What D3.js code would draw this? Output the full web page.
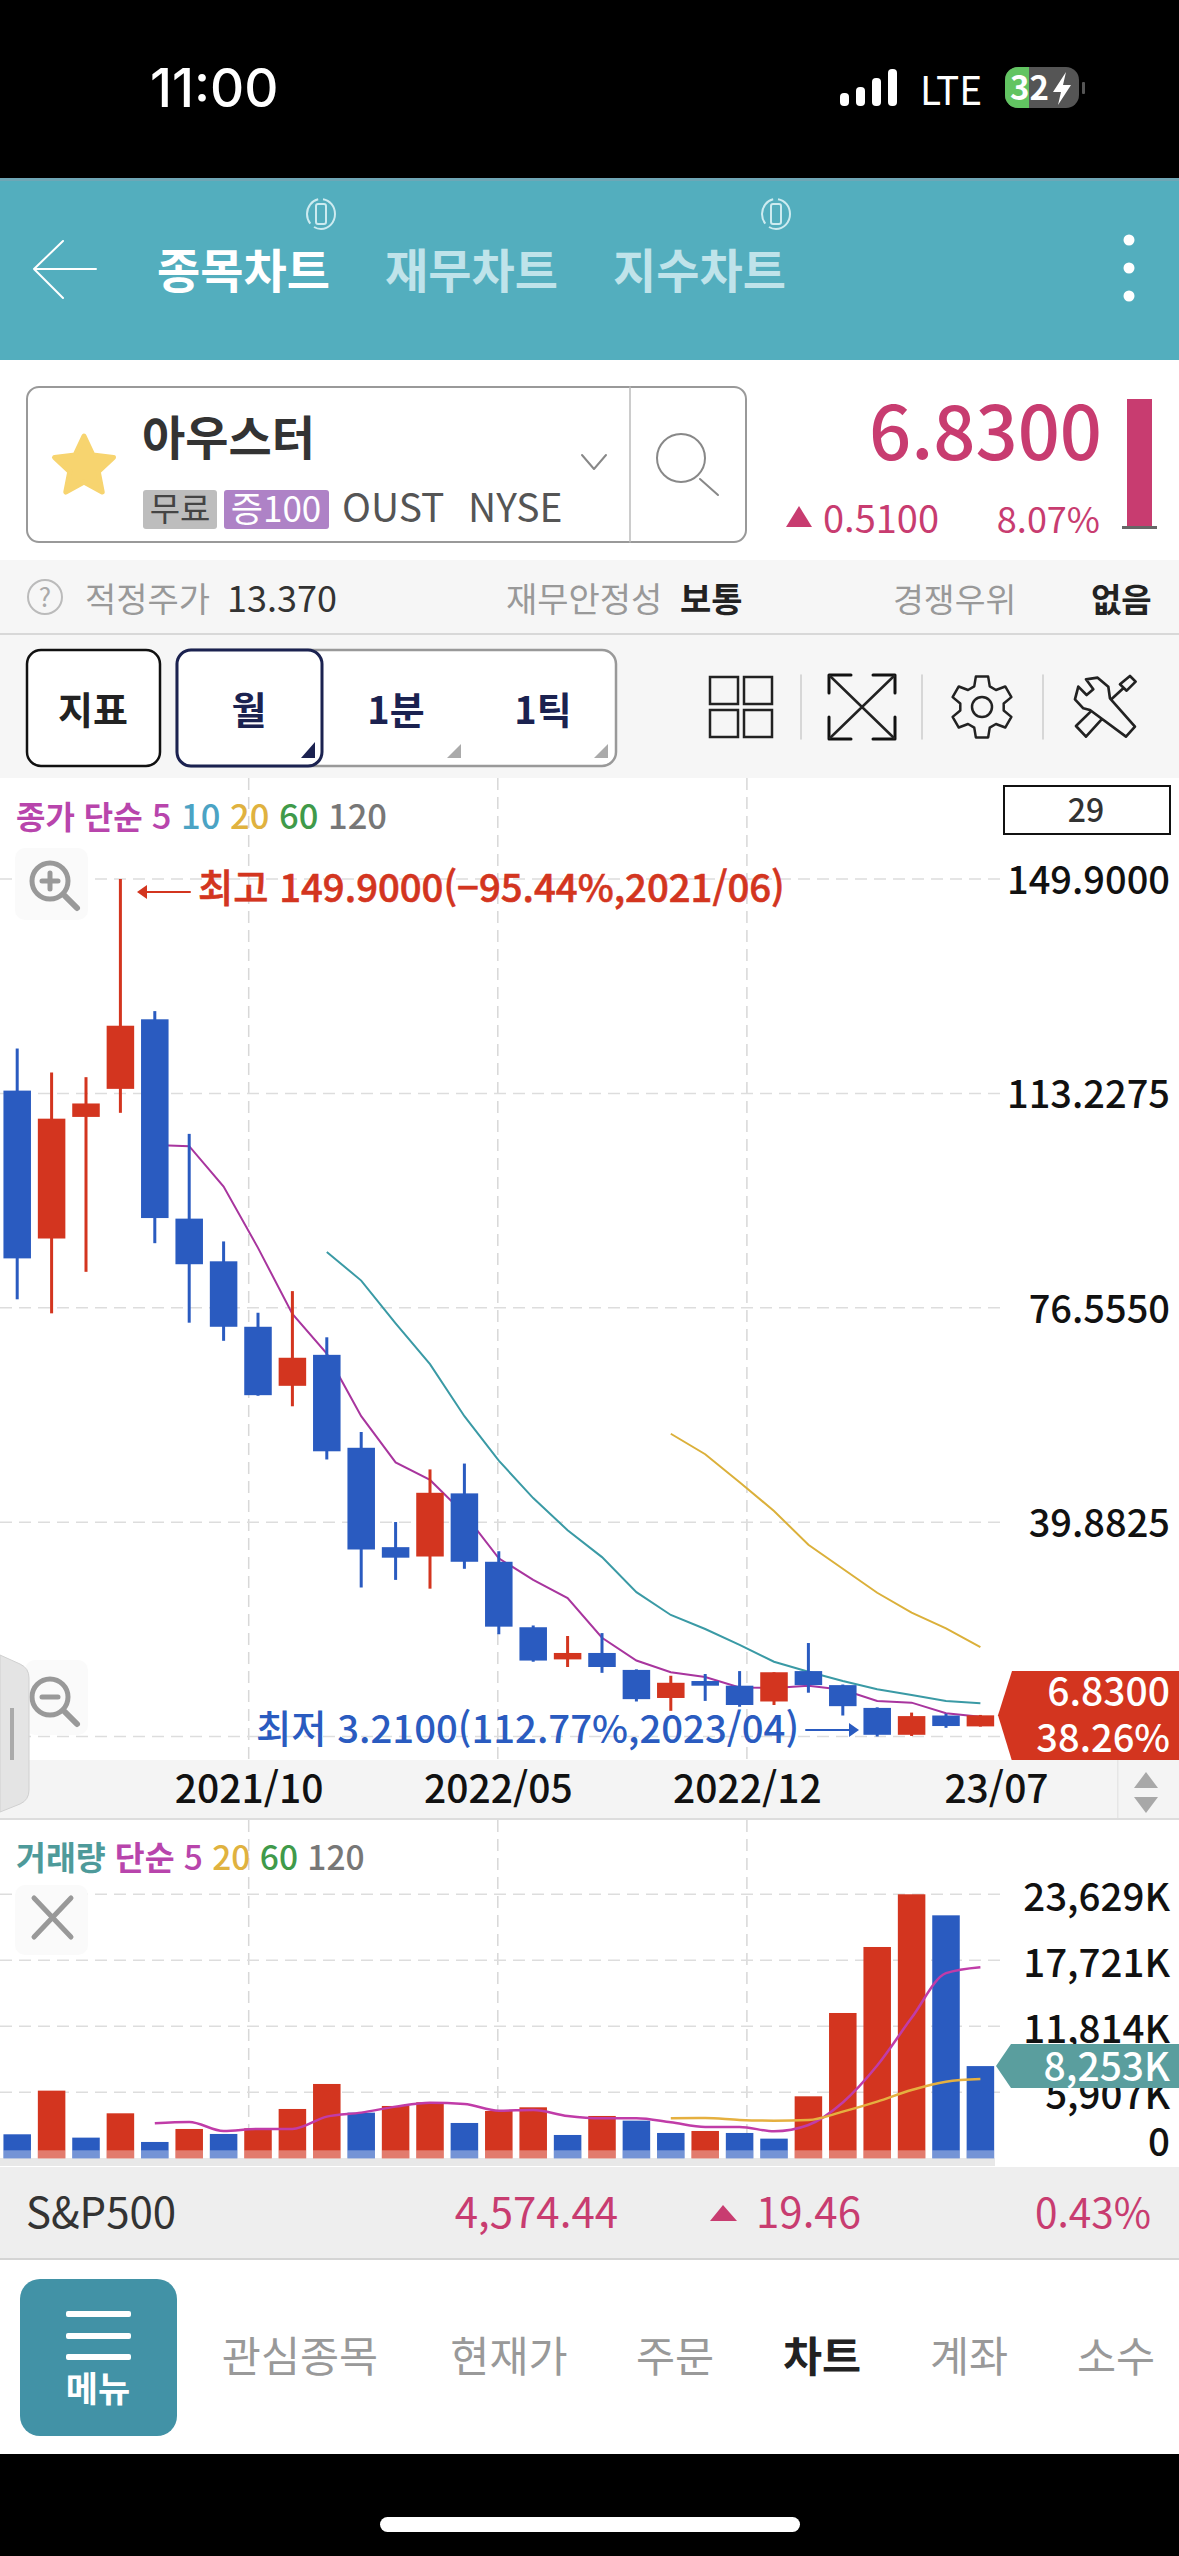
<!DOCTYPE html>
<html lang="ko">
<head>
<meta charset="utf-8">
<title>아우스터 차트</title>
<script src="https://cdn.jsdelivr.net/npm/d3@7"></script>
<style>
  html, body { margin: 0; padding: 0; background: #000; }
  svg { display: block; }
  text { font-family: "Noto Sans CJK KR", "Noto Sans", sans-serif; }
</style>
</head>
<body>
<div id="chart"></div>
<script>
// monthly candles
const months = ["2021/03","2021/04","2021/05","2021/06","2021/07","2021/08","2021/09","2021/10","2021/11","2021/12",
  "2022/01","2022/02","2022/03","2022/04","2022/05","2022/06","2022/07","2022/08","2022/09","2022/10","2022/11","2022/12",
  "2023/01","2023/02","2023/03","2023/04","2023/05","2023/06","2023/07"];
const opens = [113.7,88.4,109.2,114.0,125.9,91.8,84.5,73.3,63.2,68.5,52.6,35.6,34.0,44.8,33.1,21.9,16.4,17.5,14.6,9.8,12.7,11.9,9.2,14.4,12.0,8.1,3.5,6.8,4.94];
const highs = [120.9,116.8,116.0,149.9,127.3,106.3,87.9,75.7,79.4,71.5,55.3,39.9,48.9,49.9,34.9,22.2,20.4,20.9,14.7,13.6,13.9,14.4,14.2,19.2,12.1,8.2,7.3,7.1,6.9];
const lows = [78.0,75.6,82.7,109.9,87.6,74.0,70.9,61.5,59.7,50.6,28.7,30.0,28.5,31.9,20.7,16.0,15.1,14.1,9.2,7.6,9.3,8.3,8.6,10.7,6.8,3.21,3.3,4.7,4.9];
const closes = [85.0,108.9,111.5,124.8,91.9,84.0,73.3,61.6,68.0,52.0,35.2,33.8,44.9,33.1,22.0,16.2,17.5,15.1,9.6,12.4,11.9,8.6,14.2,12.0,8.4,3.5,6.7,5.0,6.83];

const ma5 = [null,null,null,null,104.4,104.2,97.3,86.8,75.5,68.7,58.0,50.1,47.1,41.3,33.7,30.0,26.9,20.1,16.2,14.2,13.4,11.6,11.5,11.9,11.2,9.3,9.0,7.2,6.6];
const ma10 = [null,null,null,null,null,null,null,null,null,86.1,81.2,73.9,66.9,58.0,50.4,44.0,38.5,33.9,27.9,24.0,21.6,18.9,16.0,14.3,12.7,11.3,10.3,9.3,8.9];
const ma20 = [null,null,null,null,null,null,null,null,null,null,null,null,null,null,null,null,null,null,null,55.0,51.5,46.7,41.8,36.0,31.9,27.8,24.4,21.7,18.5];

// volume in thousands
const volumes = [2148,6056,1850,4027,1462,2625,2178,2685,4415,6653,4087,4684,5012,3162,4236,4564,2088,3789,3371,2267,2446,2267,1760,5549,13006,18913,23629,21747,8253];
const volMa5 = [null,null,null,null,3132,3252,2446,2625,2625,3729,4087,4624,4982,4862,4266,4325,3788,3580,3580,3222,2804,2804,2416,2983,5000,8300,12570,16570,17110];
const volMa20 = [null,null,null,null,null,null,null,null,null,null,null,null,null,null,null,null,null,null,null,3580,3609,3430,3371,3430,4176,5071,6115,6861,7100];

const priceTicks = [149.9, 113.2275, 76.555, 39.8825];
const volumeTicks = [23629, 17721, 11814, 5907, 0];
const dateLabels = ["2021/10", "2022/05", "2022/12", "23/07"];

const RED = "#D3351F", BLUE = "#2A5BC0", PINK = "#C83C70";
const width = 1179, height = 2556;

const svg = d3.select("#chart").append("svg")
  .attr("width", width).attr("height", height)
  .attr("viewBox", `0 0 ${width} ${height}`);

function rect(x, y, w, h, fill, opts = {}) {
  return svg.append("rect").attr("x", x).attr("y", y).attr("width", w).attr("height", h)
    .attr("fill", fill).attr("rx", opts.rx || 0)
    .attr("stroke", opts.stroke || "none").attr("stroke-width", opts.sw || 1);
}
function label(x, y, str, size, fill, weight = 400, anchor = "start") {
  return svg.append("text").attr("x", x).attr("y", y).text(str)
    .attr("font-size", size).attr("fill", fill).attr("font-weight", weight).attr("text-anchor", anchor);
}
function stroke(d, color, sw = 2, fill = "none") {
  return svg.append("path").attr("d", d).attr("stroke", color).attr("stroke-width", sw)
    .attr("fill", fill).attr("stroke-linecap", "round").attr("stroke-linejoin", "round");
}

// page bands
rect(0, 0, width, height, "#000");
rect(0, 178, width, 182, "#53AEBE");
rect(0, 178, width, 3, "#6FA6B5");
rect(0, 360, width, 200, "#fff");
rect(0, 560, width, 218, "#F6F6F6");
rect(0, 633, width, 2, "#D8D8D8");
rect(0, 778, width, 1390, "#fff");
rect(0, 2167, width, 92, "#EEEEEE");
rect(0, 2258, width, 2, "#D4D4D4");
rect(0, 2260, width, 194, "#fff");

// status bar
svg.append("text").attr("x", 150).attr("y", 107).text("11:00")
  .attr("font-size", 53).attr("fill", "#fff").attr("font-weight", 500).style("font-family", "Inter");
[[840, 13], [856, 19], [872, 28], [888, 37]].forEach(([x, h]) => rect(x, 106 - h, 9, h, "#fff", { rx: 4 }));
label(920, 105, "LTE", 40, "#fff", 400).attr("textLength", 62).attr("lengthAdjust", "spacingAndGlyphs");
rect(1005, 67, 74, 41, "#555", { rx: 13 });
svg.append("path").attr("d", "M1018 67h11v41h-11a13 13 0 0 1-13-13v-15a13 13 0 0 1 13-13z").attr("fill", "#62C462");
label(1010, 100, "32", 33, "#fff", 700);
svg.append("path").attr("d", "M1066 72l-13 20h8l-3 13 13-20h-8z").attr("fill", "#fff");
rect(1082, 82, 3, 12, "#555", { rx: 1 });

// header tabs
stroke("M63 241L34 269L63 298M34 269H96", "#fff", 2);
label(157, 288, "종목차트", 47, "#fff", 700);
label(385, 288, "재무차트", 47, "#BFE3EA", 700);
label(613, 288, "지수차트", 47, "#BFE3EA", 700);
[321, 776].forEach(cx => {
  svg.append("ellipse").attr("cx", cx).attr("cy", 214).attr("rx", 14).attr("ry", 15)
    .attr("fill", "none").attr("stroke", "#CDEBF0").attr("stroke-width", 2).attr("stroke-dasharray", "30 5");
  rect(cx - 5, 204, 10, 20, "none", { stroke: "#CDEBF0", sw: 2, rx: 2 });
});
[240, 268, 296].forEach(cy => svg.append("circle").attr("cx", 1129).attr("cy", cy).attr("r", 5.5).attr("fill", "#fff"));

// symbol box
rect(27, 387, 719, 155, "#fff", { rx: 12, stroke: "#999", sw: 2 });
stroke("M630 387V542", "#BBB", 1.5);
const starPts = d3.range(10).map(i => {
  const r = i % 2 ? 15 : 31, a = i * Math.PI / 5 - Math.PI / 2;
  return [84 + r * Math.cos(a), 467 + r * Math.sin(a)];
});
stroke(d3.line().curve(d3.curveLinearClosed)(starPts), "#F7D46F", 5, "#F7D46F");
label(142, 455, "아우스터", 47, "#333", 700);
rect(143, 490, 74, 39, "#BDBDBD", { rx: 3 });
label(180, 521, "무료", 33, "#444", 400, "middle");
rect(224, 490, 105, 39, "#AE82C6", { rx: 3 });
label(276, 522, "증100", 35, "#fff", 400, "middle");
label(342, 522, "OUST", 39, "#555");
label(468, 522, "NYSE", 39, "#555");
stroke("M582 455L594 469L606 455", "#888", 2);
svg.append("ellipse").attr("cx", 681).attr("cy", 458).attr("rx", 24).attr("ry", 24).attr("fill", "none").attr("stroke", "#888").attr("stroke-width", 2);
stroke("M700 479L718 495", "#888", 2);

// quote
label(1102, 460, "6.8300", 74, PINK, 500, "end");
rect(1127, 399, 25, 127, PINK);
rect(1122, 526, 35, 3, "#666");
svg.append("path").attr("d", "M799 506L812 527H786Z").attr("fill", PINK);
label(823, 533, "0.5100", 38, PINK);
label(1100, 533, "8.07%", 36, PINK, 400, "end");

// info row
svg.append("circle").attr("cx", 45).attr("cy", 597).attr("r", 17).attr("fill", "none").attr("stroke", "#BBB").attr("stroke-width", 2);
label(45, 607, "?", 26, "#AAA", 400, "middle");
label(85, 612, "적정주가", 34, "#999");
label(227, 612, "13.370", 36, "#333");
label(506, 612, "재무안정성", 34, "#999");
label(680, 612, "보통", 34, "#222", 700);
label(893, 612, "경쟁우위", 33.5, "#999");
label(1091, 612, "없음", 33, "#222", 700);

// toolbar
rect(27, 650, 133, 116, "#fff", { rx: 14, stroke: "#111", sw: 2.5 });
label(93, 724, "지표", 38, "#222", 700, "middle");
rect(177, 650, 439, 116, "#fff", { rx: 14, stroke: "#999", sw: 2.5 });
rect(177, 650, 145, 116, "#fff", { rx: 14, stroke: "#1B2250", sw: 3 });
label(249, 724, "월", 38, "#1B2250", 700, "middle");
label(396, 724, "1분", 38, "#1B2250", 700, "middle");
label(543, 724, "1틱", 38, "#1B2250", 700, "middle");
svg.append("path").attr("d", "M315 742V758H301Z").attr("fill", "#1B2250");
svg.append("path").attr("d", "M461 744V758H447Z").attr("fill", "#AAA");
svg.append("path").attr("d", "M608 744V758H594Z").attr("fill", "#AAA");
[[710, 677], [744, 677], [710, 710], [744, 710]].forEach(([x, y]) => rect(x, y, 28, 27, "none", { stroke: "#222", sw: 2.5 }));
[801, 922, 1043].forEach(x => stroke(`M${x} 675V739`, "#CCC", 1.5));
stroke("M829 693V675H851M873 675H895V693M829 717V739H851M873 739H895V717", "#111", 3);
stroke("M830 676L894 738M894 676L830 738", "#222", 2.5);
const gearPts = [];
d3.range(6).forEach(i => {
  const a = i * Math.PI / 3 - Math.PI / 2;
  [[-0.36, 22], [-0.2, 31], [0.2, 31], [0.36, 22]].forEach(([da, r]) => {
    gearPts.push([982 + r * Math.cos(a + da), 707 + r * Math.sin(a + da)]);
  });
});
stroke(d3.line().curve(d3.curveLinearClosed)(gearPts), "#222", 2.5);
svg.append("circle").attr("cx", 982).attr("cy", 707).attr("r", 10).attr("fill", "none").attr("stroke", "#222").attr("stroke-width", 2.5);
stroke("M835 110L860 135L880 118L858 88L893 83L925 110L930 145L1005 230L978 260L870 180L850 175L825 148ZM960 103L990 78L1007 95L980 122ZM970 115L935 147M905 208L858 260L828 228L872 185", "#222", 8)
  .attr("transform", "translate(800,650) scale(0.3333)");

// scales
const x = d3.scaleBand().domain(months).range([0, 997.6]).paddingInner(0.2).paddingOuter(0.1);
const cx = i => x(months[i]) + x.bandwidth() / 2;
const y = d3.scaleLinear().domain([3.21, 149.9]).range([1736.5, 879]);
const yVol = d3.scaleLinear().domain([0, 23629]).range([2158.3, 1894.3]);
const xDates = d3.scalePoint().domain(dateLabels).range([248.7, 996]);

// grid
const gridDash = "12 7";
dateLabels.slice(0, 3).forEach(d => {
  [[778, 1760], [1820, 2158]].forEach(([a, b]) =>
    stroke(`M${xDates(d)} ${a}V${b}`, "#D8D8D8", 1.5).attr("stroke-dasharray", gridDash).attr("stroke-linecap", "butt"));
});
priceTicks.concat([3.21]).forEach(v =>
  stroke(`M0 ${y(v)}H1000`, "#DDD", 1.5).attr("stroke-dasharray", gridDash).attr("stroke-linecap", "butt"));
volumeTicks.slice(0, 4).forEach(v =>
  stroke(`M0 ${yVol(v)}H1000`, "#DDD", 1.5).attr("stroke-dasharray", gridDash).attr("stroke-linecap", "butt"));

// legends
function legend(yPos, size, parts) {
  const t = svg.append("text").attr("x", 16).attr("y", yPos).attr("font-size", size);
  parts.forEach(([s, c, w, fs]) => {
    t.append("tspan").text(s + " ").attr("fill", c).attr("font-weight", w || 500).attr("font-size", fs || size);
  });
}
legend(829, 34.5, [["종가", "#B845AC", 700, 32], ["단순", "#B845AC", 700, 32], ["5", "#B845AC"], ["10", "#4BA3C4"], ["20", "#E0B23F"], ["60", "#3F9A4A"], ["120", "#777"]]);
legend(1870, 33.5, [["거래량", "#4E9A9A", 700, 32.5], ["단순", "#B845AC", 700, 32.5], ["5", "#B845AC"], ["20", "#E0B23F"], ["60", "#3F9A4A"], ["120", "#777"]]);

rect(1004, 786, 166, 48, "#fff", { stroke: "#111", sw: 2 });
label(1086, 822, "29", 32, "#333", 500, "middle");

// zoom buttons
rect(15, 848, 73, 72, "#FAFAFA", { rx: 10 });
rect(25, 1660, 63, 75, "#FAFAFA", { rx: 10 });
[[50, 881], [50, 1697]].forEach(([a, b], i) => {
  svg.append("circle").attr("cx", a).attr("cy", b).attr("r", 18).attr("fill", "none").attr("stroke", "#999").attr("stroke-width", 5);
  stroke(`M${a + 15} ${b + 15}L${a + 27} ${b + 27}`, "#999", 6);
  stroke(i ? `M${a - 8} ${b}H${a + 8}` : `M${a - 8} ${b}H${a + 8}M${a} ${b - 8}V${b + 8}`, "#999", 5);
});

// moving averages sit behind the candles
const maLine = d3.line().defined(d => d != null).x((d, i) => cx(i)).y(d => y(d));
[[ma5, "#A8359E"], [ma10, "#3A9AA5"], [ma20, "#DBB03A"]].forEach(([values, color]) => {
  svg.append("path").attr("d", maLine(values)).attr("fill", "none").attr("stroke", color).attr("stroke-width", 2);
});

// candles
const candles = svg.append("g").selectAll("g").data(months).enter().append("g")
  .attr("fill", (d, i) => closes[i] >= opens[i] ? RED : BLUE);
candles.append("rect")
  .attr("x", (d, i) => cx(i) - 1.5).attr("width", 3)
  .attr("y", (d, i) => y(highs[i]))
  .attr("height", (d, i) => y(lows[i]) - y(highs[i]));
candles.append("rect")
  .attr("x", d => x(d)).attr("width", x.bandwidth())
  .attr("y", (d, i) => y(Math.max(opens[i], closes[i])))
  .attr("height", (d, i) => Math.abs(y(opens[i]) - y(closes[i])));

// high / low notes
stroke(`M190 ${y(149.9) + 13}H146`, RED, 2);
svg.append("path").attr("d", `M137 ${y(149.9) + 13}l10-7v14Z`).attr("fill", RED);
label(198, 902, "최고 149.9000(−95.44%,2021/06)", 38.3, RED, 500).attr("stroke", RED).attr("stroke-width", 0.6);
label(256, 1743, "최저 3.2100(112.77%,2023/04)", 38.3, BLUE, 500);
stroke("M806 1730H850", BLUE, 2);
svg.append("path").attr("d", "M859 1730l-10-7v14Z").attr("fill", BLUE);

// price axis
const priceAxis = d3.axisRight(y).tickValues(priceTicks).tickSize(0).tickFormat(d3.format(".4f"));
const gPrice = svg.append("g").attr("transform", "translate(1170,0)").call(priceAxis);
gPrice.select(".domain").remove();
gPrice.selectAll("text").attr("x", 0).attr("dy", "0.38em").attr("text-anchor", "end").attr("font-size", 38).attr("font-weight", 500)
  .attr("fill", "#111").style("font-family", '"Noto Sans CJK KR"');

// current price tag
svg.append("path").attr("d", `M998 ${y(6.83)}L1012 1671H1179V1761H1012Z`).attr("fill", RED);
label(1170, 1706, "6.8300", 39, "#fff", 500, "end");
label(1170, 1752, "38.26%", 38, "#fff", 500, "end");

// date axis band
rect(0, 1760, width, 58, "#F4F4F4");
rect(0, 1818, width, 2, "#DDD");
rect(1117, 1760, 1.5, 58, "#E6E6E6");
svg.append("path").attr("d", "M1146 1772L1158 1788H1134Z").attr("fill", "#A8A8A8");
svg.append("path").attr("d", "M1146 1813L1158 1797H1134Z").attr("fill", "#A8A8A8");
const dateAxis = d3.axisBottom(xDates).tickSize(0);
const gDate = svg.append("g").attr("transform", "translate(0,1760)").call(dateAxis);
gDate.select(".domain").remove();
gDate.selectAll("text").attr("y", 0).attr("dy", 43).attr("font-size", 39).attr("font-weight", 500)
  .attr("fill", "#111").style("font-family", '"Noto Sans CJK KR"');

// side handle sits above the date band
svg.append("path").attr("d", "M0 1655L20 1664Q29 1668 29 1678V1790Q29 1800 20 1804L0 1812Z").attr("fill", "#E4E4E4").attr("stroke", "#D0D0D0");
rect(10, 1708, 4, 52, "#AAA");

// volume panel
rect(15, 1885, 73, 70, "#FAFAFA", { rx: 10 });
stroke("M34 1898L71 1937M71 1898L34 1937", "#999", 5);
rect(0, 2158, 995, 8, "#E8E8E8");
svg.append("g").selectAll("rect").data(months).enter().append("rect")
  .attr("x", d => x(d)).attr("width", x.bandwidth())
  .attr("y", (d, i) => yVol(volumes[i]))
  .attr("height", (d, i) => yVol(0) - yVol(volumes[i]))
  .attr("fill", (d, i) => i > 0 && volumes[i] >= volumes[i - 1] ? RED : BLUE);
svg.append("g").selectAll("rect").data(months).enter().append("rect")
  .attr("x", d => x(d)).attr("width", x.bandwidth())
  .attr("y", yVol(0) - 8).attr("height", 8)
  .attr("fill", "#fff").attr("opacity", 0.35);

const volLine = d3.line().defined(d => d != null).x((d, i) => cx(i)).y(d => yVol(d)).curve(d3.curveMonotoneX);
[[volMa5, "#C03CA8"], [volMa20, "#E5B040"]].forEach(([values, color]) => {
  svg.append("path").attr("d", volLine(values)).attr("fill", "none").attr("stroke", color).attr("stroke-width", 2.5);
});

const volAxis = d3.axisRight(yVol).tickValues(volumeTicks).tickSize(0)
  .tickFormat(d => d === 0 ? "0" : d3.format(",")(d) + "K");
const gVol = svg.append("g").attr("transform", "translate(1170,0)").call(volAxis);
gVol.select(".domain").remove();
gVol.selectAll("text").attr("x", 0).attr("dy", d => d === 0 ? "-0.08em" : "0.42em").attr("text-anchor", "end").attr("font-size", 38.5).attr("font-weight", 500)
  .attr("fill", "#111").style("font-family", '"Noto Sans CJK KR"');

svg.append("path").attr("d", `M996 ${yVol(8253)}L1011 2044H1179V2088H1011Z`).attr("fill", "#5A9E9E");
label(1170, 2081, "8,253K", 39, "#fff", 500, "end");

// index row
label(26, 2228, "S&P500", 42, "#333");
label(618, 2228, "4,574.44", 42, PINK, 400, "end");
svg.append("path").attr("d", "M723 2205L737 2221H710Z").attr("fill", PINK);
label(861, 2228, "19.46", 42, PINK, 400, "end");
label(1151, 2228, "0.43%", 40.5, PINK, 400, "end");

// bottom nav
rect(20, 2279, 157, 157, "#4292A6", { rx: 20 });
[2314, 2336, 2357].forEach(v => rect(66, v - 3, 65, 6, "#fff", { rx: 2 }));
label(98, 2402, "메뉴", 35, "#fff", 700, "middle");
[["관심종목", 300], ["현재가", 509], ["주문", 675], ["차트", 822], ["계좌", 969], ["소수", 1116]].forEach(([d, c]) => {
  label(c, 2372, d, 42.5, d === "차트" ? "#222" : "#999", d === "차트" ? 700 : 400, "middle");
});
rect(380, 2517, 420, 15, "#fff", { rx: 7.5 });
</script>
</body>
</html>
